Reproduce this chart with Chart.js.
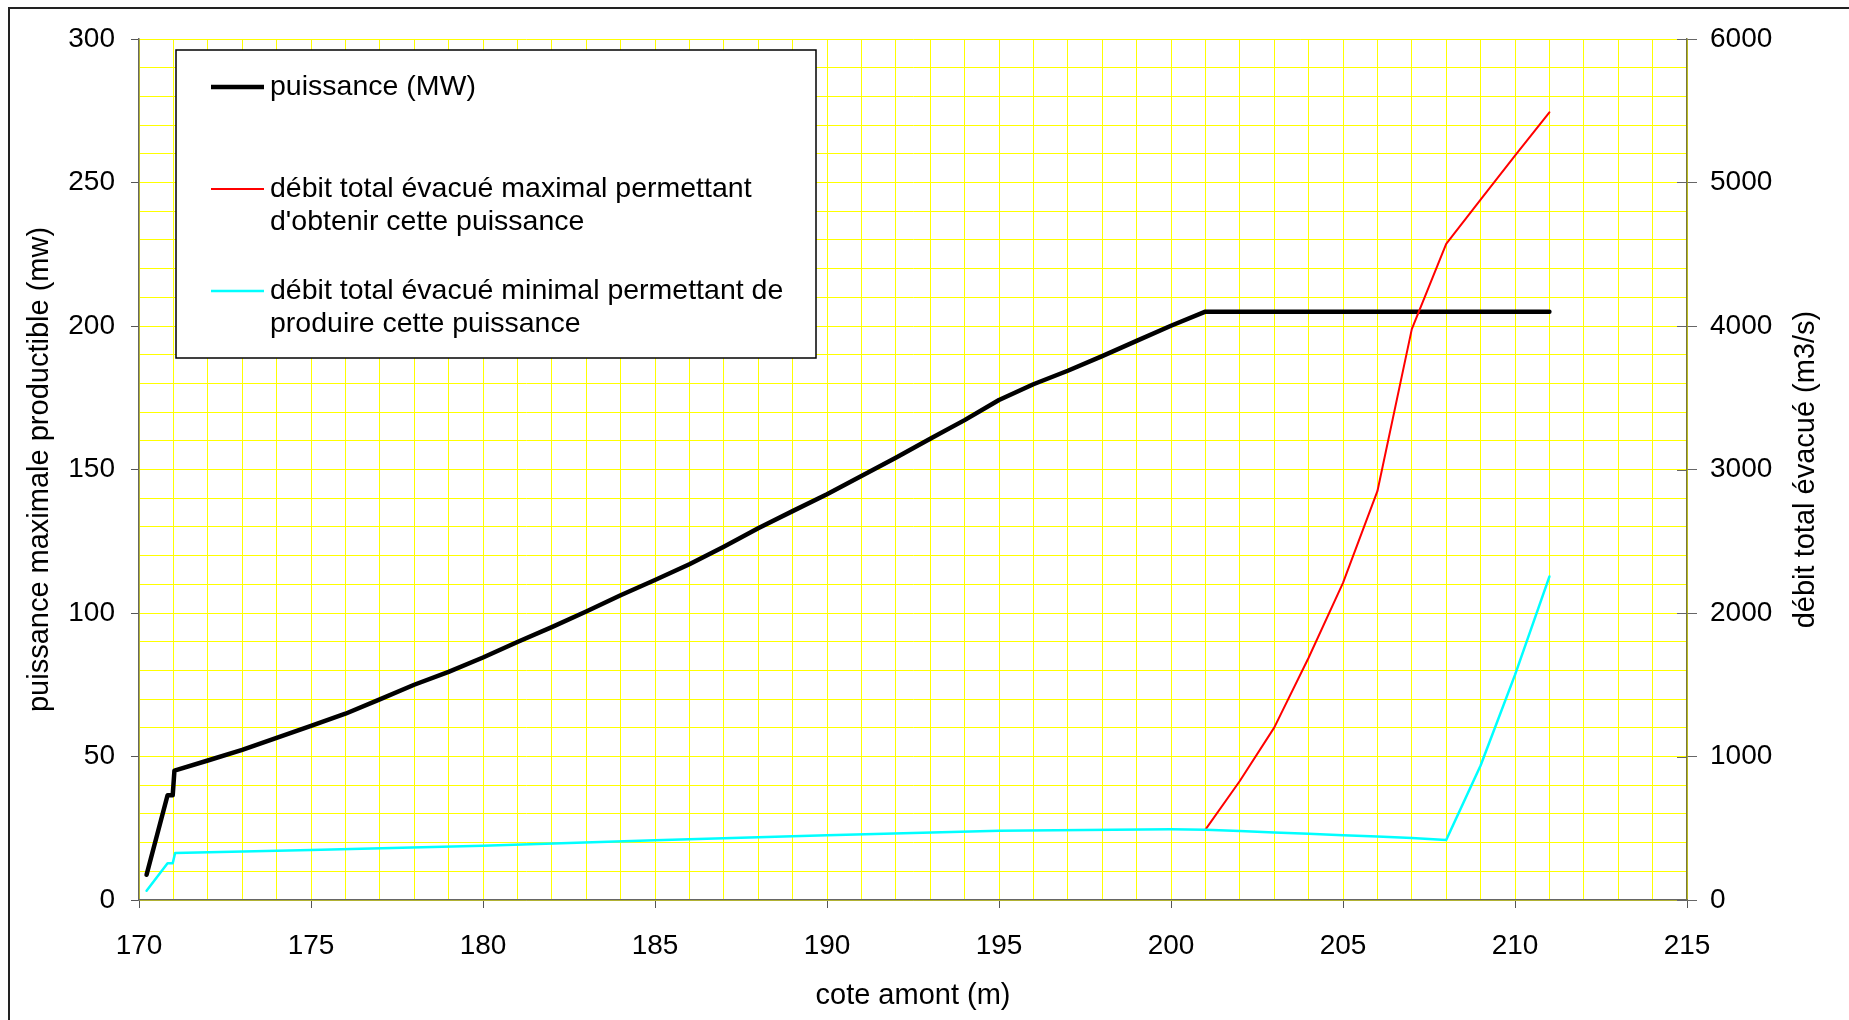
<!DOCTYPE html>
<html>
<head>
<meta charset="utf-8">
<script src="https://cdn.jsdelivr.net/npm/chart.js@4"></script>
<style>
  html, body { margin: 0; padding: 0; background: #fff; }
  #box { width: 1849px; height: 1020px; }
</style>
</head>
<body>
<div id="box"><canvas id="chart"></canvas></div>
<script>
// Données lues sur le graphique //
// puissance (axe gauche, MW)
const cotePuissance = [170.22, 170.83, 170.98, 171.03, 172, 173, 174, 175, 176, 177, 178, 179, 180,
    181, 182, 183, 184, 185, 186, 187, 188, 189, 190, 191, 192, 193, 194, 195, 196, 197, 198, 199, 200, 201, 211];
const puissance = [8.8, 36.5, 36.5, 45.1, 48.6, 52.3, 56.5, 60.7, 64.9, 69.9, 75.0, 79.5, 84.5,
    89.9, 95.1, 100.5, 106.2, 111.5, 117.0, 123.1, 129.5, 135.5, 141.4, 147.7, 154.1, 160.7, 167.2, 174.2, 179.7, 184.4, 189.5, 194.8, 200.1, 205.0, 205.0];
// débit maximal (axe droit, m3/s)
const coteDebitMax = [201, 202, 203, 204, 205, 206, 207, 208, 209, 210, 211];
const debitMax = [490, 829, 1201, 1688, 2210, 2849, 3978, 4573, 4880, 5187, 5489];
// débit minimal (axe droit, m3/s)
const coteDebitMin = [170.22, 170.83, 170.98, 171.05, 175, 180, 185, 190, 195, 200, 201,
    202, 203, 204, 205, 206, 207, 208, 209, 210, 211];
const debitMin = [65, 256, 256, 328, 348, 378, 416, 451, 483, 493, 490,
    480, 471, 461, 452, 443, 432, 418, 937, 1569, 2254];
// Légende
const legendItems = [
    { color: '#000000', width: 4.5, lines: ['puissance (MW)'], y: 87 },
    { color: '#ff0000', width: 2, lines: ["débit total évacué maximal permettant", "d'obtenir cette puissance"], y: 189 },
    { color: '#00ffff', width: 2.5, lines: ['débit total évacué minimal permettant de', 'produire cette puissance'], y: 291 },
];
const titreX = 'cote amont (m)';
const titreY = 'puissance maximale productible (mw)';
const titreY2 = 'débit total évacué (m3/s)';
//---------------------------------//

const FONT = "'Liberation Sans', Arial, sans-serif";
const pts = (xs, ys) => xs.map((x, i) => ({ x: x, y: ys[i] }));

// Cadre, titres et légende dessinés à la main
const decor = {
    id: 'decor',
    afterDraw(chart) {
        const ctx = chart.ctx;
        const area = chart.chartArea;
        ctx.save();

        // petits traits intérieurs de l'axe droit
        const y2 = chart.scales.y2;
        ctx.strokeStyle = '#666';
        ctx.lineWidth = 1;
        y2.ticks.forEach(t => {
            const py = Math.round(y2.getPixelForValue(t.value)) + 0.5;
            ctx.beginPath();
            ctx.moveTo(area.right - 10, py);
            ctx.lineTo(area.right, py);
            ctx.stroke();
        });

        // cadre extérieur
        ctx.strokeStyle = '#222';
        ctx.lineWidth = 2;
        ctx.beginPath();
        ctx.moveTo(9, 1020);
        ctx.lineTo(9, 8);
        ctx.lineTo(1849, 8);
        ctx.stroke();

        // titres des axes
        ctx.fillStyle = '#000';
        ctx.font = '29px ' + FONT;
        ctx.textAlign = 'center';
        ctx.textBaseline = 'middle';
        ctx.fillText(titreX, (area.left + area.right) / 2, 996);
        ctx.save();
        ctx.translate(40, (area.top + area.bottom) / 2);
        ctx.rotate(-Math.PI / 2);
        ctx.fillText(titreY, 0, 0);
        ctx.restore();
        ctx.save();
        ctx.translate(1806, (area.top + area.bottom) / 2);
        ctx.rotate(-Math.PI / 2);
        ctx.fillText(titreY2, 0, 0);
        ctx.restore();

        // légende
        ctx.fillStyle = '#fff';
        ctx.fillRect(176, 50, 640, 308);
        ctx.strokeStyle = '#000';
        ctx.lineWidth = 1.5;
        ctx.strokeRect(176, 50, 640, 308);
        ctx.font = '28.5px ' + FONT;
        ctx.textAlign = 'left';
        legendItems.forEach(item => {
            ctx.strokeStyle = item.color;
            ctx.lineWidth = item.width;
            ctx.beginPath();
            ctx.moveTo(211, item.y);
            ctx.lineTo(264, item.y);
            ctx.stroke();
            ctx.fillStyle = '#000';
            item.lines.forEach((txt, i) => ctx.fillText(txt, 270, item.y + i * 33));
        });
        ctx.restore();
    }
};

new Chart(document.getElementById('chart'), {
    type: 'line',
    data: {
        datasets: [{
            label: 'débit minimal',
            data: pts(coteDebitMin, debitMin),
            borderColor: '#00ffff',
            borderWidth: 2.5,
            yAxisID: 'y2',
        }, {
            label: 'débit maximal',
            data: pts(coteDebitMax, debitMax),
            borderColor: '#ff0000',
            borderWidth: 2,
            yAxisID: 'y2',
        }, {
            label: 'puissance (MW)',
            data: pts(cotePuissance, puissance),
            borderColor: '#000000',
            borderWidth: 4.5,
            yAxisID: 'y',
        }]
    },
    options: {
        responsive: true,
        maintainAspectRatio: false,
        animation: false,
        layout: { padding: { top: 39, left: 0, right: 0, bottom: 0 } },
        elements: {
            point: { radius: 0 },
            line: { tension: 0, borderCapStyle: 'round', borderJoinStyle: 'round' }
        },
        plugins: { legend: { display: false }, tooltip: { enabled: false } },
        scales: {
            x: {
                type: 'linear',
                min: 170, max: 215,
                afterFit: s => { s.height = 120; },
                grid: {
                    color: '#ffff00',
                    lineWidth: 1,
                    tickLength: 8,
                    tickColor: c => (c.tick && c.tick.value % 5 === 0) ? '#555' : 'rgba(0,0,0,0)'
                },
                border: { color: '#666', width: 1.5 },
                ticks: {
                    stepSize: 1,
                    autoSkip: false,
                    maxRotation: 0,
                    padding: 21,
                    color: '#000',
                    font: { family: FONT, size: 28 },
                    callback: v => (v % 5 === 0) ? String(v) : ''
                }
            },
            y: {
                position: 'left',
                min: 0, max: 300,
                afterFit: s => { s.width = 139; },
                grid: {
                    color: '#ffff00',
                    lineWidth: 1,
                    tickLength: 8,
                    tickColor: c => (c.tick && c.tick.value % 50 === 0) ? '#555' : 'rgba(0,0,0,0)'
                },
                border: { color: '#666', width: 1.5 },
                ticks: {
                    stepSize: 10,
                    autoSkip: false,
                    padding: 16,
                    color: '#000',
                    font: { family: FONT, size: 28 },
                    callback: v => (v % 50 === 0) ? String(v) : ''
                }
            },
            y2: {
                position: 'right',
                min: 0, max: 6000,
                afterFit: s => { s.width = 162; },
                grid: { drawOnChartArea: false, tickLength: 10, tickColor: '#666' },
                border: { color: '#77773f', width: 1.5 },
                ticks: {
                    stepSize: 1000,
                    padding: 13,
                    color: '#000',
                    font: { family: FONT, size: 28 },
                    callback: v => String(v)
                }
            }
        }
    },
    plugins: [decor]
});
</script>
</body>
</html>
